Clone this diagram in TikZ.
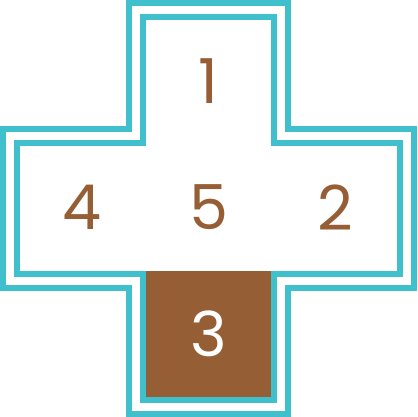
\documentclass[tikz,border=0pt]{standalone}
\usepackage{fontspec}
\setmainfont{Poppins}
\usetikzlibrary{positioning}

\definecolor{crossteal}{RGB}{64,191,204}
\definecolor{cellbrown}{RGB}{150,94,52}

\tikzset{
  cell/.style={minimum size=126pt, inner sep=0pt, text=cellbrown,
    font=\fontsize{62}{62}\selectfont},
  rim/.style={draw=crossteal, line width=5.7pt, line join=miter},
}

% cross outline: #1 half size, #2 half arm
\newcommand{\crossrim}[2]{%
  (-#2,-#1) -- (#2,-#1) -- (#2,-#2) -- (#1,-#2) -- (#1,#2) -- (#2,#2) --
  (#2,#1) -- (-#2,#1) -- (-#2,#2) -- (-#1,#2) -- (-#1,-#2) -- (-#2,-#2) -- cycle}

\begin{document}
\begin{tikzpicture}[x=1pt,y=-1pt]
  \useasboundingbox (0,0) rectangle (417,417);
  \begin{scope}[shift={(208.5,208.5)}]
    \fill[cellbrown] (-65.8,62.95) rectangle (65.8,191.8);
    \draw[rim] \crossrim{205.65}{79.5};
    \draw[rim] \crossrim{191.8}{65.8};
  \end{scope}
  \node[cell] (c5) at (208.5,207.5) {5};
  \node[cell] (c1) [above=0pt of c5] {1};
  \node[cell] (c4) [left=0pt of c5] {4};
  \node[cell] (c2) [right=0pt of c5] {2};
  \node[cell, text=white] (c3) [below=0pt of c5] {3};
\end{tikzpicture}
\end{document}
